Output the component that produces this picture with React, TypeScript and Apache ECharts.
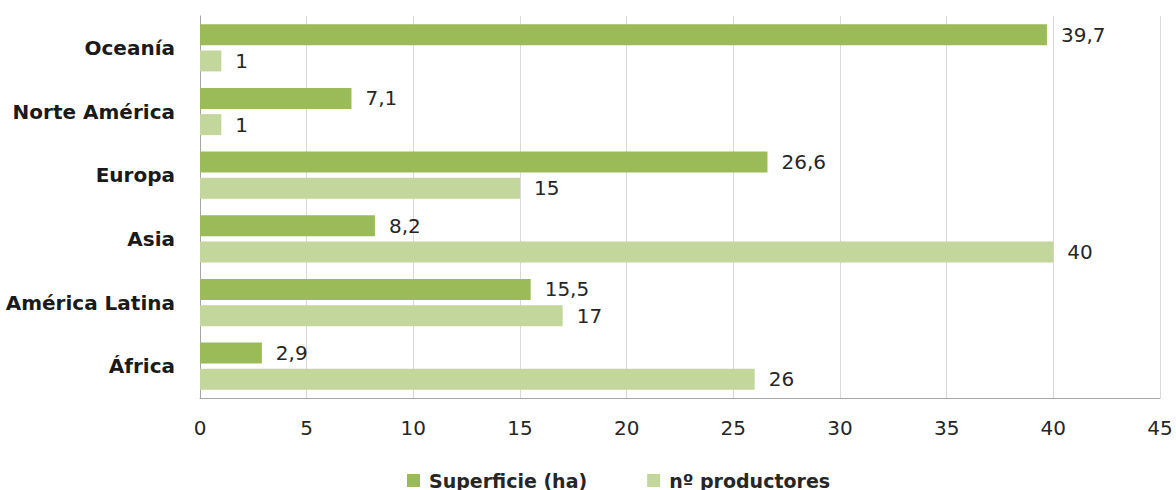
import React, { useEffect, useRef } from "react";
import * as echarts from "echarts";

const categories = ["África", "América Latina", "Asia", "Europa", "Norte América", "Oceanía"];
const superficie = [2.9, 15.5, 8.2, 26.6, 7.1, 39.7];
const productores = [26, 17, 40, 15, 1, 1];
const seriesNames = ["Superficie (ha)", "nº productores"];

const FONT = "DejaVu Sans";

export default function App() {
  const ref = useRef<HTMLDivElement>(null);
  useEffect(() => {
    const chart = echarts.init(ref.current!, null, { renderer: "svg" });
    const fmt = (p: any) => String(p.value).replace(".", ",");
    const label = { show: true, position: "right", distance: 14, formatter: fmt, fontFamily: FONT, fontSize: 20, color: "#262626" };
    chart.setOption({
      animation: false,
      textStyle: { fontFamily: FONT },
      grid: { left: 200, right: 16, top: 16, bottom: 92, containLabel: false },
      legend: {
        top: 466,
        left: 402,
        itemWidth: 13,
        itemHeight: 13,
        itemGap: 60,
        icon: "rect",
        textStyle: { fontFamily: FONT, fontSize: 19, fontWeight: "bold", color: "#262626", padding: [0, 0, 0, 4] },
        data: seriesNames,
      },
      xAxis: {
        type: "value",
        min: 0,
        max: 45,
        interval: 5,
        axisLine: { show: true, lineStyle: { color: "#a6a6a6" } },
        axisTick: { show: false },
        splitLine: { show: true, lineStyle: { color: "#d9d9d9" } },
        axisLabel: { fontFamily: FONT, fontSize: 20, color: "#262626", margin: 20 },
      },
      yAxis: {
        type: "category",
        data: categories,
        axisLine: { show: true, lineStyle: { color: "#a6a6a6" } },
        axisTick: { show: false },
        axisLabel: { fontFamily: FONT, fontSize: 20, fontWeight: "bold", color: "#1a1a1a", margin: 25 },
      },
      series: [
        {
          name: seriesNames[0],
          type: "bar",
          data: superficie,
          barWidth: 21,
          barGap: "25%",
          itemStyle: { color: "#9BBB59" },
          label,
        },
        {
          name: seriesNames[1],
          type: "bar",
          data: productores,
          barWidth: 21,
          barGap: "25%",
          itemStyle: { color: "#C3D69B" },
          label,
        },
      ],
    });
    return () => chart.dispose();
  }, []);
  return <div ref={ref} style={{ position: "absolute", left: 0, top: 0, width: 1176, height: 490 }} />;
}
